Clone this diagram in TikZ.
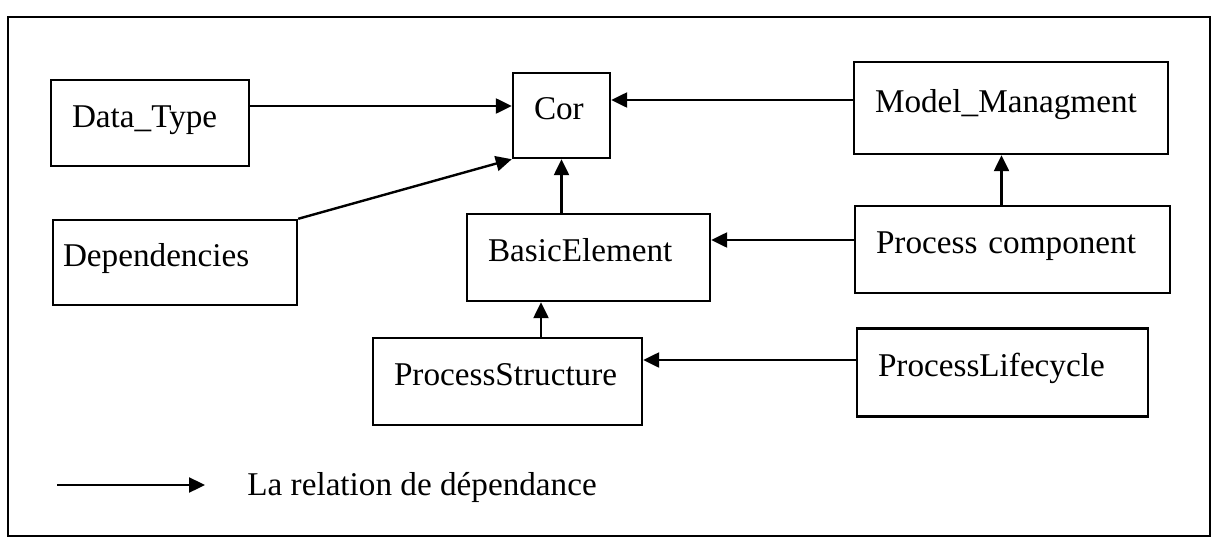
\documentclass[tikz,border=0pt]{standalone}
\usepackage{fontspec}
\setmainfont{Liberation Serif}
\usepackage{tikz}
\usetikzlibrary{arrows.meta, positioning, calc}
\tikzset{
	pkg/.style={rectangle, draw=black, line width=1.2pt, align=left, inner xsep=10.5pt, text height=11pt, text depth=7pt, font=\fontsize{16.6}{19}\selectfont},
	dep/.style={-{Triangle[length=8pt, width=7.5pt]}, line width=1.2pt},
	legtext/.style={font=\fontsize{16.6}{19}\selectfont, inner sep=0pt},
}

\begin{document}
\begin{tikzpicture}[x=0.5pt, y=-0.5pt]
	\useasboundingbox (0,0) rectangle (1217,541);
	\draw[line width=1.2pt] (8,17) rectangle (1210,536);
	% packages
	\node[pkg, text width=78pt, minimum height=43pt] (datatype) at (150,123) {Data\_Type};
	\node[pkg, text width=27.5pt, minimum height=42.5pt] (cor) at (561.5,115.5) {Cor};
	\node[pkg, text width=136pt, minimum height=46pt] (model) at (1011,108) {Model\_Managment};
	\node[pkg, inner xsep=5pt, text width=112pt, minimum height=42.5pt] (deps) at (175,262.5) {Dependencies};
	\node[pkg, text width=100.5pt, minimum height=43.5pt] (basic) at (588.5,257.5) {BasicElement};
	\node[pkg, text width=136.5pt, minimum height=43.5pt] (proccomp) at (1012.5,249.5) {Process component};
	\node[pkg, text width=113.5pt, minimum height=43.5pt] (pstruct) at (507.5,381.5) {ProcessStructure};
	\node[pkg, text width=124.5pt, minimum height=44pt] (lifecycle) at (1002.5,372.5) {ProcessLifecycle};
	% dependencies
	\draw[dep] ([yshift=8.5pt]datatype.east) -- ([yshift=8.5pt]datatype.east -| cor.west);
	\draw[dep] ([yshift=4pt]model.west) -- ([yshift=4pt]model.west -| cor.east);
	\draw[dep] (deps.north east) -- (cor.south west);
	\draw[dep] (cor.south |- basic.north) -- (cor.south);
	\draw[dep] ([yshift=4.75pt]proccomp.west) -- ([yshift=4.75pt]proccomp.west -| basic.east);
	\draw[dep] ([xshift=-5.5pt]proccomp.north) -- ([xshift=-5.5pt]proccomp.north |- model.south);
	\draw[dep] ([xshift=16.75pt]pstruct.north) -- ([xshift=16.75pt]pstruct.north |- basic.south);
	\draw[dep] ([yshift=6.25pt]lifecycle.west) -- ([yshift=6.25pt]lifecycle.west -| pstruct.east);
	% legend
	\coordinate (legA) at (57,485);
	\coordinate (legB) at (205,485);
	\draw[dep] (legA) -- (legB);
	\node[legtext, anchor=west] (legtxt) at (247,487) {La relation de dépendance};
\end{tikzpicture}
\end{document}
